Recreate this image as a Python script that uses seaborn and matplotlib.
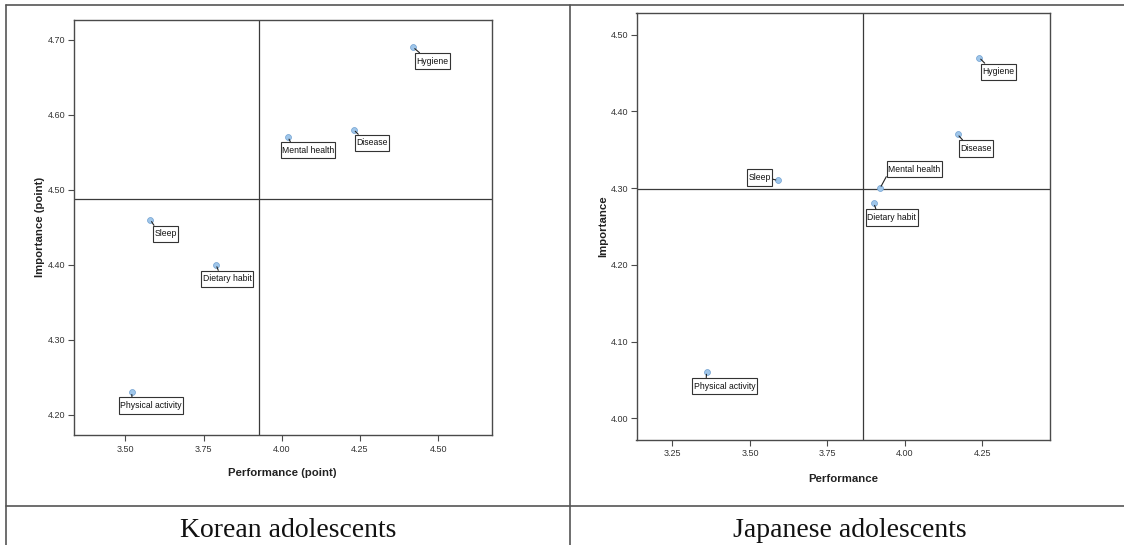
import matplotlib
matplotlib.use("Agg")
import matplotlib.pyplot as plt
from matplotlib import font_manager
from matplotlib.lines import Line2D
from matplotlib.path import Path
import seaborn as sns
import pandas as pd

# ---------------- data ----------------
domains = ["Hygiene", "Disease", "Mental health", "Sleep", "Dietary habit", "Physical activity"]
korean_performance = [4.42, 4.23, 4.02, 3.58, 3.79, 3.52]
korean_importance = [4.69, 4.58, 4.57, 4.46, 4.40, 4.23]
japanese_performance = [4.24, 4.17, 3.92, 3.59, 3.90, 3.36]
japanese_importance = [4.47, 4.37, 4.30, 4.31, 4.28, 4.06]

korean_xticks = [3.50, 3.75, 4.00, 4.25, 4.50]
korean_yticks = [4.20, 4.30, 4.40, 4.50, 4.60, 4.70]
japanese_xticks = [3.25, 3.50, 3.75, 4.00, 4.25]
japanese_yticks = [4.00, 4.10, 4.20, 4.30, 4.40, 4.50]

captions = ["Korean adolescents", "Japanese adolescents"]
xlabels = ["Performance (point)", "Performance"]
ylabels = ["Importance (point)", "Importance"]

# ---------------- layout (label box offsets in pixels, leader anchor) ----------------
korean_label_layout = {
    "Hygiene": ((19, -14), (0.25, 1.0)),
    "Disease": ((18, -13), (0.2, 1.0)),
    "Mental health": ((20, -13), (0.2, 1.0)),
    "Sleep": ((15, -14), (0.1, 1.0)),
    "Dietary habit": ((11, -14), (0.35, 1.0)),
    "Physical activity": ((19, -13), (0.2, 1.0)),
}
japanese_label_layout = {
    "Hygiene": ((19, -14), (0.2, 1.0)),
    "Disease": ((18, -14), (0.2, 1.0)),
    "Mental health": ((34, 19), (0.0, 0.0)),
    "Sleep": ((-18, 3), (1.0, 0.35)),
    "Dietary habit": ((18, -14), (0.2, 1.0)),
    "Physical activity": ((18, -14), (0.2, 1.0)),
}


def label_box(x0, y0, width, height, mutation_size):
    px = 0.15 * mutation_size
    py = 0.42 * mutation_size
    pts = [(x0 - px, y0 - py), (x0 + width + px, y0 - py),
           (x0 + width + px, y0 + height + py), (x0 - px, y0 + height + py),
           (x0 - px, y0 - py)]
    return Path(pts, closed=True)


sns.set_theme(style="white")
available = {f.name for f in font_manager.fontManager.ttflist}
narrow = "Liberation Sans Narrow" in available
sans = ["Liberation Sans Narrow", "Liberation Sans", "DejaVu Sans"] if narrow else ["Liberation Sans", "DejaVu Sans"]
plt.rcParams["font.family"] = ["Liberation Sans", "DejaVu Sans"]

W, H = 1124, 545
fig = plt.figure(figsize=(W / 100, H / 100), dpi=100)
fig.patch.set_facecolor("white")

ax_specs = [
    (73.5, 19.5, 491.7, 435.2),
    (636.5, 13.2, 1050.1, 439.7),
]
limits = [
    ((3.334, 4.671), (4.173, 4.727)),
    ((3.134, 4.4685), (3.972, 4.528)),
]
datasets = [
    (korean_performance, korean_importance, korean_xticks, korean_yticks, korean_label_layout),
    (japanese_performance, japanese_importance, japanese_xticks, japanese_yticks, japanese_label_layout),
]

spine_col = "#4a4a4a"
for i, ((l, t, r, b), (xl, yl), (perf, imp, xt, yt, layout)) in enumerate(zip(ax_specs, limits, datasets)):
    ax = fig.add_axes([l / W, (H - b) / H, (r - l) / W, (b - t) / H])
    df = pd.DataFrame({"Domain": domains, "Performance": perf, "Importance": imp})
    sns.scatterplot(data=df, x="Performance", y="Importance", ax=ax, s=18,
                    color="#9fc6ea", edgecolor="#6f9fd0", linewidth=0.5, zorder=4)
    ax.set_xlim(*xl)
    ax.set_ylim(*yl)
    # mean reference lines
    ax.axvline(sum(perf) / len(perf), color="#3a3a3a", lw=0.9, zorder=2)
    ax.axhline(sum(imp) / len(imp), color="#3a3a3a", lw=0.9, zorder=2)

    ax.set_xticks(xt)
    ax.set_yticks(yt)
    tfs = 7.5 if narrow else 6.5
    ax.set_xticklabels([f"{v:.2f}" for v in xt], fontsize=tfs, family=sans, color="#333333")
    ax.set_yticklabels([f"{v:.2f}" for v in yt], fontsize=tfs, family=sans, color="#333333")
    ax.tick_params(axis="x", which="major", direction="out", length=4, width=0.8,
                   color=spine_col, pad=3, bottom=True)
    ax.tick_params(axis="y", which="major", direction="out", length=4, width=0.8,
                   color=spine_col, pad=2, left=True)
    for sp in ax.spines.values():
        sp.set_color(spine_col)
        sp.set_linewidth(1.0)
        sp.set_visible(True)
    ax.grid(False)

    ax.set_xlabel(xlabels[i], fontsize=8.2, fontweight="bold", color="#222222")
    ax.set_ylabel(ylabels[i], fontsize=8.2, fontweight="bold", color="#222222")
    ax.xaxis.label.set_va("center")
    ax.yaxis.label.set_va("center")
    ax.xaxis.set_label_coords(0.5, -0.091)
    ax.yaxis.set_label_coords(-0.08, 0.5)

    for name, x, y in zip(domains, perf, imp):
        (dx, dy), rel = layout[name]
        ax.annotate(name, xy=(x, y), xytext=(dx, dy), textcoords="offset pixels",
                    ha="center", va="center", fontsize=7.2 if narrow else 6.2, family=sans,
                    color="#111111", zorder=5,
                    bbox=dict(boxstyle=label_box, fc="white", ec="#333333", lw=0.8),
                    arrowprops=dict(arrowstyle="-", color="#222222", lw=0.8,
                                    shrinkA=0, shrinkB=1.5, relpos=rel))

# ---------------- table frame ----------------
lc = "#555555"


def fline(x0, y0, x1, y1):
    fig.add_artist(Line2D([x0 / W, x1 / W], [1 - y0 / H, 1 - y1 / H],
                          transform=fig.transFigure, color=lc, lw=1.2))


fline(6.5, 4.5, W, 4.5)
fline(6.5, 4.5, 6.5, H)
fline(570, 4.5, 570, H)
fline(6.5, 505.5, W, 505.5)

fig.text(288.6 / W, 1 - 537 / H, captions[0], ha="center", va="baseline",
         fontsize=20, family=["Liberation Serif", "DejaVu Serif"], color="#111111")
fig.text(849.6 / W, 1 - 537 / H, captions[1], ha="center", va="baseline",
         fontsize=20, family=["Liberation Serif", "DejaVu Serif"], color="#111111")

fig.savefig("out.png", dpi=100, facecolor="white")
